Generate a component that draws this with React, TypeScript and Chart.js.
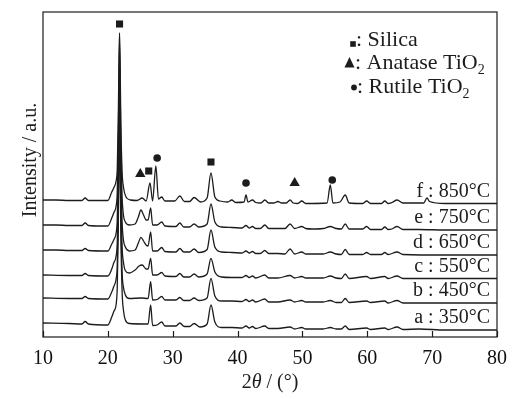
import React, { useEffect, useRef } from 'react';
import { Chart, registerables } from 'chart.js';

Chart.register(...registerables);

const FONT = '"Liberation Serif", "Times New Roman", serif';

// 2θ tick labels
const xTicks = [10, 20, 30, 40, 50, 60, 70, 80];

// curve labels, from bottom (a) to top (f)
const seriesLabels = ['a : 350°C', 'b : 450°C', 'c : 550°C', 'd : 650°C', 'e : 750°C', 'f : 850°C'];

// XRD traces: [2θ, intensity (a.u., stacked)]
const curveA: [number, number][] = [
  [10, 14], [14, 13.5], [16, 13], [16.5, 15.5], [17, 13], [20, 12], [20.6, 20], [20.9, 25.3], [21.3, 34], [21.45, 50],
  [21.6, 105], [21.72, 180], [21.8, 217], [21.88, 180], [22.0, 105], [22.2, 45], [22.4, 27], [22.7, 17], [23.3, 13.5],
  [26.2, 13], [26.6, 32], [26.9, 11.5], [27.6, 12], [28.3, 15], [28.8, 11], [30.5, 11], [31.1, 14], [31.8, 10.5],
  [32.6, 10.5], [33.3, 13.5], [34.2, 10], [35.3, 13], [35.9, 32], [36.5, 15], [37.5, 9.5], [39.1, 9.5], [40.7, 9],
  [41.3, 11], [41.8, 9], [42.3, 10.5], [42.8, 8.5], [44.2, 11], [44.8, 8.5], [46.2, 8.5], [48.1, 10], [48.8, 8],
  [49.9, 9.5], [50.5, 8], [53.2, 8], [54.3, 9.5], [55.2, 8], [56, 8], [56.6, 11], [57.2, 7.5], [59.9, 9], [60.5, 7.5],
  [62.7, 9], [63.2, 7.5], [64.6, 10], [65.5, 7.5], [68, 8], [72, 7], [80, 7],
];
const curveB: [number, number][] = [
  [10, 39], [14, 38.5], [16, 38.5], [16.5, 40.5], [17, 38.5], [20, 38], [20.6, 45], [20.9, 50.3], [21.3, 59], [21.45, 72],
  [21.6, 125], [21.72, 200], [21.8, 237], [21.88, 200], [22.0, 125], [22.2, 65], [22.4, 50], [22.7, 42], [23.3, 38.5],
  [25.2, 39], [26.2, 38.5], [26.6, 55.3], [26.9, 37], [27.6, 37.5], [28.3, 40.5], [28.8, 37], [30.5, 37], [31.1, 39.5],
  [31.7, 36.5], [32.6, 36.5], [33.3, 39], [34, 36.5], [35.3, 39], [35.9, 58.7], [36.5, 41], [37.5, 36], [39.1, 36],
  [40.7, 35.5], [41.3, 37.5], [41.8, 35.5], [42.3, 37], [42.8, 35], [44.2, 38], [44.8, 35], [46.2, 35], [48.1, 37],
  [48.8, 35], [49.9, 36.5], [50.5, 35], [53.2, 35], [54.3, 36.5], [55.2, 34.5], [56, 34.5], [56.6, 38.5], [57.2, 34.5],
  [59.9, 36], [60.5, 34.5], [62.7, 36], [63.2, 34], [64.6, 36.5], [65.5, 34], [72, 34], [80, 34],
];
const curveC: [number, number][] = [
  [10, 62], [14, 61.5], [16, 61.5], [16.5, 63.5], [17, 61.5], [20, 61], [20.6, 68], [20.9, 74], [21.3, 82], [21.45, 95],
  [21.6, 145], [21.72, 220], [21.8, 257], [21.88, 220], [22.0, 145], [22.2, 90], [22.4, 75], [22.7, 66.3], [23.3, 64],
  [24.2, 67], [24.8, 71], [25.3, 72], [25.9, 68], [26.2, 68], [26.6, 78.7], [26.9, 62], [27.6, 62], [28.3, 64.5],
  [28.8, 61], [30.5, 60.5], [31.1, 63.5], [31.7, 60], [32.6, 60], [33.3, 63], [34, 60], [35.3, 63], [35.9, 78.7],
  [36.5, 65], [37.5, 60], [39.1, 59.5], [40.7, 59.5], [41.3, 61.5], [41.8, 59.5], [42.3, 61], [42.8, 59], [44.2, 62],
  [44.8, 59], [46.2, 59], [48.1, 61.5], [48.8, 59], [49.9, 60.5], [50.5, 59], [53.2, 59], [54.3, 61], [55.2, 59],
  [56, 58.5], [56.6, 63], [57.2, 58.5], [59.9, 60.5], [60.5, 58.5], [62.7, 60.5], [63.2, 58.5], [64.6, 61],
  [65.5, 58.5], [72, 58.5], [80, 58.5],
];
const curveD: [number, number][] = [
  [10, 87], [12, 87], [14, 86.5], [16, 86.5], [16.5, 88.5], [17, 86.5], [20, 86], [20.6, 93], [20.9, 97], [21.3, 105],
  [21.45, 118], [21.6, 170], [21.72, 240], [21.8, 277], [21.88, 240], [22.0, 170], [22.2, 115], [22.4, 97], [22.7, 90],
  [23.3, 86], [24.2, 87], [24.7, 94], [25.1, 99.7], [25.5, 96], [25.9, 92], [26.2, 91], [26.6, 105], [26.9, 86],
  [27.6, 86], [28.3, 89.5], [28.8, 85.5], [30.5, 85], [31.1, 88.5], [31.7, 85], [32.6, 85], [33.3, 88], [34, 84.5],
  [35.3, 87.5], [35.9, 107], [36.5, 90], [37.5, 85], [39.1, 84.5], [40.7, 84], [41.3, 86], [41.8, 84], [42.3, 85.5],
  [42.8, 83.5], [43.5, 83.5], [44.2, 86.5], [44.8, 83.5], [46.2, 83.5], [47.3, 83], [48.1, 88], [48.8, 83], [49.9, 85],
  [50.5, 83], [53.2, 83], [54.3, 85], [55.2, 83], [56, 82.5], [56.6, 87.5], [57.2, 82.5], [59.3, 82.5], [59.9, 84.5],
  [60.5, 82.5], [62.2, 82.5], [62.7, 84.5], [63.2, 82.5], [64.6, 85], [65.5, 82.5], [72, 82], [80, 82],
];
const curveE: [number, number][] = [
  [10, 112], [12, 112], [14, 111.5], [16, 111.5], [16.5, 114], [17, 111.5], [19, 111], [20, 111], [20.6, 119],
  [20.9, 124], [21.3, 132], [21.45, 145], [21.6, 195], [21.72, 260], [21.8, 292], [21.88, 260], [22.0, 195],
  [22.2, 140], [22.4, 122], [22.7, 115], [23.3, 112], [24.2, 113], [24.7, 120], [25.1, 127], [25.5, 122], [25.9, 117],
  [26.2, 117], [26.6, 129], [26.9, 112], [27.6, 112], [28.3, 115], [28.8, 111], [30.5, 110.5], [31.1, 114], [31.7, 110],
  [32.6, 110], [33.3, 113], [34, 110], [35.3, 113], [35.9, 133], [36.5, 115], [37.5, 110], [39.1, 109.5], [40.7, 109],
  [41.3, 111.5], [41.8, 109], [42.3, 110.5], [42.8, 108.5], [43.5, 108.5], [44.2, 112], [44.8, 108.5], [46.2, 108.5],
  [47.3, 108.5], [48.1, 113], [48.8, 108.5], [49.9, 110.5], [50.5, 108.5], [51.5, 108], [53.2, 108.5], [54.3, 110.5],
  [55.2, 108.5], [56, 108], [56.6, 113], [57.2, 108], [59.3, 108], [59.9, 110.5], [60.5, 107.5], [62.2, 107.5],
  [62.7, 110], [63.2, 107.5], [63.8, 108], [64.6, 110.5], [65.5, 107.5], [68, 107.5], [72, 107], [76, 107], [80, 107],
];
const curveF: [number, number][] = [
  [10, 137], [12, 137], [14, 136.5], [16, 136.5], [16.5, 139], [17, 136.5], [19, 136.5], [20, 136.5], [20.6, 145],
  [20.9, 149], [21.3, 157], [21.45, 168], [21.6, 215], [21.72, 280], [21.8, 304], [21.88, 280], [22.0, 215],
  [22.2, 165], [22.4, 150], [22.8, 140], [23.5, 137], [24.5, 136.5], [25.3, 139], [25.9, 136], [26.5, 154], [26.9, 136],
  [27.4, 171], [27.8, 138], [28.3, 140], [28.8, 136], [30.3, 136], [31.1, 141], [31.8, 135.5], [32.6, 135.5],
  [33.3, 139.5], [34.3, 135], [35.3, 139], [35.9, 164], [36.5, 140], [37.3, 136], [38.5, 135], [39.1, 137],
  [39.7, 134.5], [41.0, 135], [41.3, 142], [41.6, 135], [42.3, 137], [42.8, 134.5], [43.6, 134], [44.2, 137],
  [44.8, 134], [45.6, 134], [46.2, 135.5], [46.8, 134], [47.5, 134], [48.1, 137], [48.6, 134], [49.3, 133.5],
  [49.9, 136], [50.5, 133.5], [53.8, 134], [54.3, 152], [54.7, 134], [55.8, 135], [56.6, 142], [57.2, 134],
  [59.3, 133.5], [59.9, 136], [60.5, 133.5], [62.2, 133.5], [62.7, 136], [63.2, 133.5], [63.8, 134.5], [64.6, 137],
  [65.5, 134], [68.7, 134], [69.2, 139], [69.6, 135.5], [72, 133.5], [76, 133.5], [80, 133.5],
];
const curves = [curveA, curveB, curveC, curveD, curveE, curveF];

// phase markers above peaks: [2θ, height]
const silicaMarks: [number, number][] = [[21.8, 313], [26.3, 166], [35.9, 175]];
const anataseMarks: [number, number][] = [[25.0, 163], [48.8, 154]];
const rutileMarks: [number, number][] = [[27.6, 179], [41.3, 154], [54.6, 157]];

// legend entries
const legendNames = ['Silica', 'Anatase TiO', 'Rutile TiO'];
const legendSubs = ['', '2', '2'];

const INK = '#1c1c1c';

const overlay = {
  id: 'overlay',
  afterDraw(chart: any) {
    const { ctx, chartArea: a, scales } = chart;
    const xs = scales.x;
    const ys = scales.y;
    ctx.save();
    ctx.strokeStyle = INK;
    ctx.fillStyle = INK;
    ctx.lineWidth = 1.2;
    ctx.strokeRect(a.left, a.top, a.right - a.left, a.bottom - a.top);
    // inner ticks
    xTicks.forEach((v) => {
      const px = Math.round(xs.getPixelForValue(v)) + 0.5;
      ctx.beginPath();
      ctx.moveTo(px, a.bottom);
      ctx.lineTo(px, a.bottom - 6);
      ctx.stroke();
    });
    // curve labels
    ctx.font = `20px ${FONT}`;
    ctx.textAlign = 'right';
    ctx.textBaseline = 'alphabetic';
    curves.forEach((c, i) => {
      const last = c[c.length - 1][1];
      ctx.fillText(seriesLabels[i], a.right - 7, ys.getPixelForValue(last) - 7);
    });
    // legend
    ctx.textAlign = 'left';
    const rows = [
      { sx: 353, sy: 44, tx: 356, by: 46 },
      { sx: 349.5, sy: 62.5, tx: 355, by: 69 },
      { sx: 354, sy: 87.5, tx: 357, by: 93 },
    ];
    rows.forEach((r, i) => {
      ctx.beginPath();
      if (i === 0) {
        ctx.rect(r.sx - 2.8, r.sy - 2.8, 5.6, 5.6);
      } else if (i === 1) {
        ctx.moveTo(r.sx, r.sy - 5.5);
        ctx.lineTo(r.sx + 5, r.sy + 5);
        ctx.lineTo(r.sx - 5, r.sy + 5);
        ctx.closePath();
      } else {
        ctx.arc(r.sx, r.sy, 2.9, 0, Math.PI * 2);
      }
      ctx.fill();
      ctx.font = `22px ${FONT}`;
      const t = ': ' + legendNames[i];
      ctx.fillText(t, r.tx, r.by);
      if (legendSubs[i]) {
        const w = ctx.measureText(t).width;
        ctx.font = `14px ${FONT}`;
        ctx.fillText(legendSubs[i], r.tx + w, r.by + 5);
      }
    });
    // y title
    ctx.save();
    ctx.translate(36, 160);
    ctx.rotate(-Math.PI / 2);
    ctx.textAlign = 'center';
    ctx.font = `20px ${FONT}`;
    ctx.fillText('Intensity / a.u.', 0, 0);
    ctx.restore();
    // x title: 2θ / (°)
    const parts = [
      { t: '2', f: `20px ${FONT}` },
      { t: 'θ', f: `italic 20px ${FONT}` },
      { t: ' / (°)', f: `20px ${FONT}` },
    ];
    let total = 0;
    parts.forEach((p) => {
      ctx.font = p.f;
      total += ctx.measureText(p.t).width;
    });
    let x = (a.left + a.right) / 2 - total / 2;
    parts.forEach((p) => {
      ctx.font = p.f;
      ctx.fillText(p.t, x, 388);
      x += ctx.measureText(p.t).width;
    });
    ctx.restore();
  },
};

export default function App() {
  const ref = useRef<HTMLCanvasElement | null>(null);
  useEffect(() => {
    document.body.style.margin = '0';
    const canvas = ref.current;
    if (!canvas) return;
    const lineSets = curves.map((c, i) => ({
      label: seriesLabels[i],
      data: c.map(([x, y]) => ({ x, y })),
      borderColor: INK,
      borderWidth: 1.3,
      pointRadius: 0,
      fill: false,
      cubicInterpolationMode: 'monotone' as const,
    }));
    const markSet = (pts: [number, number][], style: string, r: number) => ({
      label: style,
      data: pts.map(([x, y]) => ({ x, y })),
      showLine: false,
      pointStyle: style,
      pointRadius: r,
      pointBackgroundColor: INK,
      pointBorderColor: INK,
      pointBorderWidth: 0,
    });
    const chart = new Chart(canvas, {
      type: 'line',
      data: {
        datasets: [
          ...lineSets,
          markSet(silicaMarks, 'rect', 5),
          markSet(anataseMarks, 'triangle', 6),
          markSet(rutileMarks, 'circle', 3.8),
        ] as any,
      },
      options: {
        animation: false,
        responsive: false,
        layout: { padding: { left: 43, right: 17, top: 12, bottom: 0 } },
        plugins: { legend: { display: false }, tooltip: { enabled: false } },
        scales: {
          x: {
            type: 'linear',
            min: 10,
            max: 80,
            grid: { display: false },
            border: { display: false },
            afterFit: (s: any) => {
              s.height = 62;
            },
            ticks: {
              stepSize: 10,
              color: '#111',
              padding: 2,
              font: { family: FONT, size: 20 },
            },
          },
          y: { display: false, min: 0, max: 325 },
        },
      },
      plugins: [overlay],
    });
    return () => chart.destroy();
  }, []);
  return (
    <div style={{ width: 514, height: 399 }}>
      <canvas ref={ref} width={514} height={399} />
    </div>
  );
}
